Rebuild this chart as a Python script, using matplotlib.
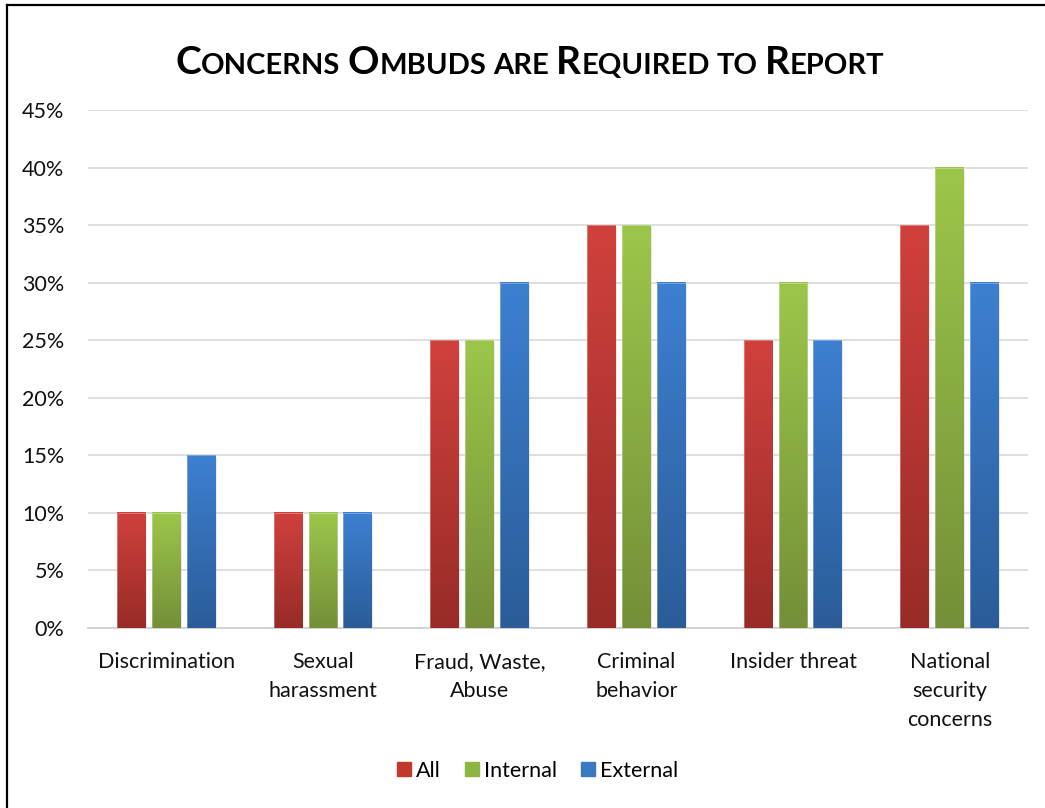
import numpy as np
import matplotlib
matplotlib.use("Agg")
from matplotlib import pyplot as plt
from matplotlib.lines import Line2D
from matplotlib.patches import Rectangle
from matplotlib.offsetbox import TextArea, HPacker, AnchoredOffsetbox
from matplotlib.colors import LinearSegmentedColormap

# data
categories = ["Discrimination", "Sexual\nharassment", "Fraud, Waste,\nAbuse",
              "Criminal\nbehavior", "Insider threat", "National\nsecurity\nconcerns"]
all_vals = [0.10, 0.10, 0.25, 0.35, 0.25, 0.35]
internal_vals = [0.10, 0.10, 0.25, 0.35, 0.30, 0.40]
external_vals = [0.15, 0.10, 0.30, 0.30, 0.25, 0.30]
series_names = ["All", "Internal", "External"]
yticks = [0, 0.05, 0.10, 0.15, 0.20, 0.25, 0.30, 0.35, 0.40, 0.45]

# top / bottom colours for the gradient
grads = [("#D0413D", "#982B27"), ("#9CC64B", "#748F38"), ("#3D80D1", "#2B5C98")]
flat = ["#C0392B", "#8DB542", "#3A78C4"]

plt.rcParams['font.family'] = ['Lato', 'DejaVu Sans']

fig = plt.figure(figsize=(10.45, 8.08), dpi=100)
ax = fig.add_axes([88/1045, 1-628/808, 940/1045, 518/808])

x = np.arange(len(categories))
width = 0.185
step = 0.223
series = [all_vals, internal_vals, external_vals]

for i, vals in enumerate(series):
    cmap = LinearSegmentedColormap.from_list("g%d" % i, [grads[i][1], grads[i][0]])
    bars = ax.bar(x + (i - 1) * step, vals, width, color="none", edgecolor="none", zorder=3)
    for b in bars:
        x0, y0 = b.get_x(), b.get_y()
        w, h = b.get_width(), b.get_height()
        # soft shadow
        ax.add_patch(Rectangle((x0 + 0.006, y0 - 0.002), w, h, color="#000000", alpha=0.12,
                               lw=0, zorder=2.5))
        grad = np.linspace(0, 1, 256).reshape(-1, 1)
        ax.imshow(grad, cmap=cmap, origin="lower", aspect="auto",
                  extent=(x0, x0 + w, y0, y0 + h), zorder=3)
        ax.add_patch(Rectangle((x0, y0), w, h, fill=False, edgecolor="#FFFFFF",
                               lw=0.6, alpha=0.35, zorder=3.5))

ax.set_xlim(-0.5, len(categories) - 0.5)
ax.set_ylim(0, 0.45)
ax.set_yticks(yticks)
ax.set_yticklabels(["%d%%" % round(t * 100) for t in yticks], fontsize=15.5)
ax.set_xticks(x)
ax.set_xticklabels(categories, fontsize=15.5, linespacing=1.56, va="top")
ax.tick_params(axis="both", length=0, colors="#111111")
ax.tick_params(axis="x", pad=17)
ax.tick_params(axis="y", pad=17)
ax.grid(axis="y", color="#D9D9D9", lw=1.2, zorder=0)
ax.set_axisbelow(True)
for s in ["top", "right", "left"]:
    ax.spines[s].set_visible(False)
ax.spines["bottom"].set_color("#D0D0D0")
ax.spines["bottom"].set_linewidth(1.3)

# title in small caps
title_words = ["Concerns", "Ombuds", "are", "Required", "to", "Report"]
parts = []
for k, w in enumerate(title_words):
    if k > 0:
        parts.append(TextArea(" ", textprops=dict(fontsize=21, fontweight="bold")))
    if w[0].isupper():
        parts.append(TextArea(w[0], textprops=dict(fontsize=28, fontweight="bold", color="black")))
        rest = w[1:]
    else:
        rest = w
    if rest:
        parts.append(TextArea(rest.upper(), textprops=dict(fontsize=21, fontweight="bold", color="black")))
pack = HPacker(children=parts, align="baseline", pad=0, sep=0)
anch = AnchoredOffsetbox(loc="center", child=pack, frameon=False,
                         bbox_to_anchor=(530/1045, 1-62/808), bbox_transform=fig.transFigure)
fig.add_artist(anch)

# legend
handles = [Line2D([], [], marker="s", ls="none", markersize=10, markerfacecolor=flat[i],
                  markeredgecolor=flat[i]) for i in range(3)]
fig.legend(handles, series_names, loc="center", bbox_to_anchor=(537/1045, 1-771/808),
           ncol=3, frameon=False, fontsize=15.5, handlelength=0.7, handletextpad=0.2,
           columnspacing=1.1)

# chart border (left and top only visible)
fig.add_artist(Line2D([7/1045, 7/1045], [0, 1-5/808], transform=fig.transFigure,
                      color="black", lw=1.6))
fig.add_artist(Line2D([7/1045, 1], [1-5/808, 1-5/808], transform=fig.transFigure,
                      color="black", lw=1.6))

fig.savefig("out.png", dpi=100)
